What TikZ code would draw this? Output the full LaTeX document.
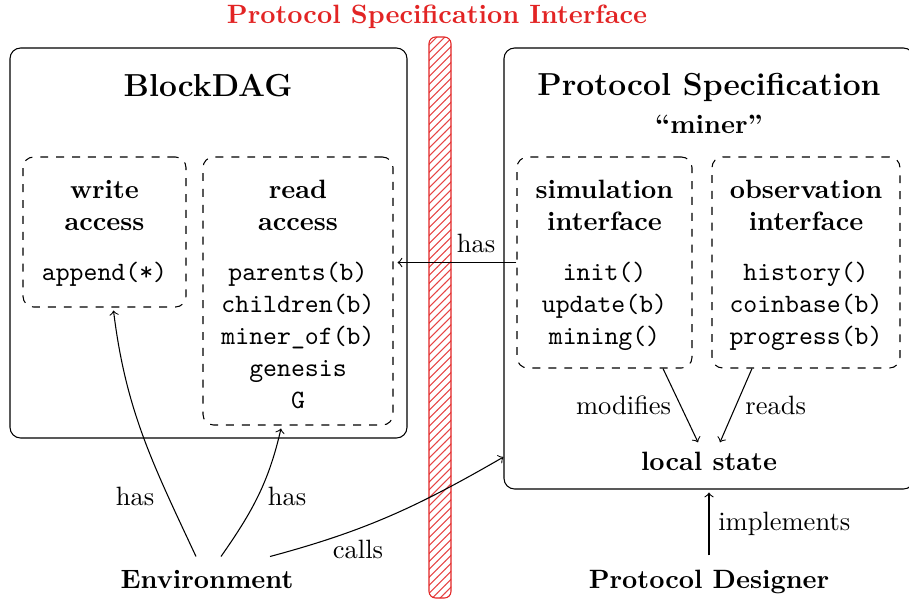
\documentclass[tikz,border=0pt]{standalone}
\usetikzlibrary{patterns,calc}
\newdimen\pxu
\pxu=0.3774pt
\definecolor{ifred}{RGB}{226,36,36}
\begin{document}
\begin{tikzpicture}[x=\pxu,y=\pxu,
  box/.style={draw,rounded corners=4pt,inner sep=0pt},
  dbox/.style={draw,dashed,rounded corners=4pt,inner sep=0pt},
  txt/.style={anchor=base,inner sep=0pt},
  btxt/.style={anchor=base,inner sep=0pt,font=\bfseries},
  ttxt/.style={anchor=base,inner sep=0pt,font=\ttfamily},
  ttl/.style={anchor=base,inner sep=0pt,font=\large\bfseries},
  lbl/.style={font=\bfseries},
  conn/.style={->}
]
\useasboundingbox (0,0) rectangle (909,-601);

% interface bar
\node (bar) [draw=ifred,rounded corners=2.5pt,pattern=north east lines,pattern color=ifred!85,
  minimum width=22\pxu,minimum height=561\pxu,inner sep=0pt] at (440,-317.5) {};
\node (pstitle) [btxt,text=ifred] at (437,-23) {Protocol Specification Interface};

% BlockDAG
\node (dag) [box,minimum width=397\pxu,minimum height=390\pxu] at (208.5,-243) {};
\node (dagt) [ttl] at (208,-96) {BlockDAG};
\node (write) [dbox,minimum width=163\pxu,minimum height=150\pxu] at (104.5,-232) {};
\node (w1) [btxt] at (104.5,-198) {write};
\node (w2) [btxt] at (104.5,-230) {access};
\node (w3) [ttxt] at (104.5,-280) {append(*)};
\node (read) [dbox,minimum width=190\pxu,minimum height=268\pxu] at (298,-291) {};
\node (r1) [btxt] at (298,-198) {read};
\node (r2) [btxt] at (298,-230) {access};
\node (r3) [ttxt] at (298,-280) {parents(b)};
\node (r4) [ttxt] at (298,-312) {children(b)};
\node (r5) [ttxt] at (298,-344) {miner\_of(b)};
\node (r6) [ttxt] at (298,-376) {genesis};
\node (r7) [ttxt] at (298,-408) {G};

% Protocol Specification
\node (ps) [box,minimum width=410\pxu,minimum height=441\pxu] at (709,-268.5) {};
\node (pst) [ttl] at (709,-95) {Protocol Specification};
\node (miner) [btxt] at (709,-133) {``miner''};
\node (sim) [dbox,minimum width=175\pxu,minimum height=211\pxu] at (604.5,-262.5) {};
\node (s1) [btxt] at (604.5,-198) {simulation};
\node (s2) [btxt] at (604.5,-230) {interface};
\node (s3) [ttxt] at (604.5,-280) {init()};
\node (s4) [ttxt] at (604.5,-312) {update(b)};
\node (s5) [ttxt] at (604.5,-344) {mining()};
\node (obs) [dbox,minimum width=188\pxu,minimum height=211\pxu] at (806,-262.5) {};
\node (o1) [btxt] at (806,-198) {observation};
\node (o2) [btxt] at (806,-230) {interface};
\node (o3) [ttxt] at (806,-280) {history()};
\node (o4) [ttxt] at (806,-312) {coinbase(b)};
\node (o5) [ttxt] at (806,-344) {progress(b)};

\node (ls) [lbl,anchor=base] at (709,-470) {local state};
\node (pd) [lbl,anchor=base] at (709,-588) {Protocol Designer};
\node (env) [lbl,anchor=base] at (207,-588) {Environment};

% connectors
\draw[conn,shorten >=1.5pt] (sim.west) -- (read.east |- sim.west);
\node (hastop) [txt] at (476,-252) {has};
\draw[conn] ($(sim.south)+(58.5,0)$) -- ($(ls.north)+(-11,0)$) node[midway,left] {modifies};
\draw[conn] ($(obs.south)+(-54,0)$) -- ($(ls.north)+(11,0)$) node[midway,right] {reads};
\draw[conn] ($(pd.north)+(0,5)$) -- ($(pd.north |- ps.south)+(0,-3)$) node[midway,right] {implements};
\draw[conn] ($(env.north)+(-11,4)$) to[out=115,in=-83] ($(write.south)+(9,-3)$);
\node (has1) [txt] at (135,-505) {has};
\draw[conn] ($(env.north)+(14,4)$) to[out=55,in=-103] ($(read.south)+(-17,-3)$);
\node (has2) [txt] at (287,-505) {has};
\draw[conn] ($(env.north)+(63,4)$) to[out=15,in=-150] ($(ps.west)+(0,-188.5)$);
\node (calls) [txt] at (358,-558) {calls};
\end{tikzpicture}
\end{document}
